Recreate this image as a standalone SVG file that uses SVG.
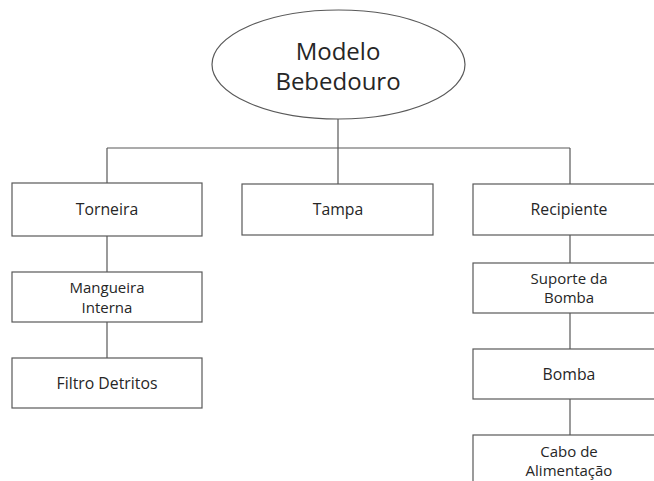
<svg xmlns="http://www.w3.org/2000/svg" width="654" height="481" viewBox="0 0 654 481">
  <style>
    .shape { fill: #ffffff; stroke: #595959; stroke-width: 1.2; }
    .link { fill: none; stroke: #595959; stroke-width: 1.2; }
    text { font-family: "Open Sans", "Noto Sans", sans-serif; fill: #262626; text-anchor: middle; }
    .big { font-size: 24px; }
    .lbl { font-size: 15.8px; }
    .sm { font-size: 15px; }
  </style>
  <rect width="654" height="481" fill="#ffffff"/>

  <g id="connectors">
    <path class="link" d="M338 118 V148 M107 148 H570 M107 148 V183 M338 148 V184 M570 148 V184"/>
    <path class="link" d="M107 236 V272 M107 322 V358"/>
    <path class="link" d="M570 235 V263 M570 313 V349 M570 399 V435"/>
  </g>

  <g id="root">
    <ellipse class="shape" cx="338.5" cy="64.5" rx="126.5" ry="54.5"/>
    <text class="big" x="338" y="60">Modelo</text>
    <text class="big" x="338" y="90">Bebedouro</text>
  </g>

  <g id="torneira">
    <rect class="shape" x="12" y="183" width="190" height="53"/>
    <text class="lbl" x="107" y="215">Torneira</text>
  </g>
  <g id="mangueira">
    <rect class="shape" x="12" y="272" width="190" height="50"/>
    <text class="sm" x="107" y="293">Mangueira</text>
    <text class="sm" x="107" y="313">Interna</text>
  </g>
  <g id="filtro">
    <rect class="shape" x="12" y="358" width="190" height="50"/>
    <text class="lbl" x="107" y="389">Filtro Detritos</text>
  </g>

  <g id="tampa">
    <rect class="shape" x="242" y="184" width="191" height="51"/>
    <text class="lbl" x="338" y="215">Tampa</text>
  </g>

  <g id="recipiente">
    <rect class="shape" x="473" y="184" width="192" height="51"/>
    <text class="lbl" x="569" y="215">Recipiente</text>
  </g>
  <g id="suporte">
    <rect class="shape" x="473" y="263" width="192" height="50"/>
    <text class="sm" x="569" y="284">Suporte da</text>
    <text class="sm" x="569" y="303">Bomba</text>
  </g>
  <g id="bomba">
    <rect class="shape" x="473" y="349" width="192" height="50"/>
    <text class="lbl" x="569" y="380">Bomba</text>
  </g>
  <g id="cabo">
    <rect class="shape" x="473" y="435" width="192" height="60"/>
    <text class="sm" x="569" y="457">Cabo de</text>
    <text class="sm" x="569" y="476">Alimentação</text>
  </g>
</svg>
